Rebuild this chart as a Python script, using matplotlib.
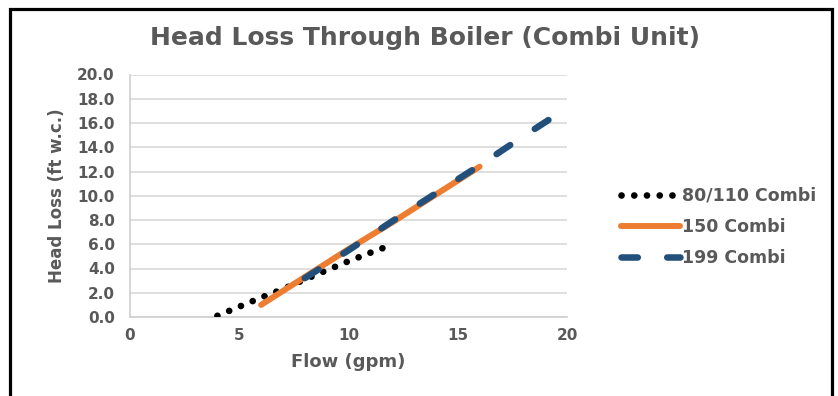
import matplotlib
matplotlib.use("Agg")
import matplotlib.pyplot as plt
from matplotlib.patches import Rectangle
from matplotlib.ticker import FormatStrFormatter

# ---- data ----
flow_80 = [4.0, 5.0, 6.0, 7.0, 8.0, 9.0, 10.0, 11.0, 11.6]
loss_80 = [0.1, 0.85, 1.6, 2.3, 3.1, 3.85, 4.6, 5.3, 5.7]

flow_150 = [6.0, 8.0, 10.0, 12.0, 14.0, 16.0]
loss_150 = [1.0, 3.3, 5.6, 7.8, 10.1, 12.4]

flow_199 = [8.0, 10.0, 12.0, 14.0, 16.0, 18.0, 19.2]
loss_199 = [3.2, 5.5, 7.9, 10.2, 12.5, 14.9, 16.3]

series_labels = ["80/110 Combi", "150 Combi", "199 Combi"]
x_ticks = [0, 5, 10, 15, 20]
y_ticks = [0, 2, 4, 6, 8, 10, 12, 14, 16, 18, 20]
title = "Head Loss Through Boiler (Combi Unit)"
x_label = "Flow (gpm)"
y_label = "Head Loss (ft w.c.)"

# ---- style ----
TXT = "#595959"
GRID = "#d9d9d9"
plt.rcParams["font.family"] = ["DejaVu Sans"]
plt.rcParams["font.weight"] = "bold"

fig = plt.figure(figsize=(8.38, 3.96), dpi=100)
ax = fig.add_axes([130 / 838, 1 - 317 / 396, (567 - 130) / 838, (317 - 74.5) / 396])

ax.plot(flow_80, loss_80, color="black", lw=4.8,
        linestyle=(0, (0.01, 1.9)), dash_capstyle="round", label=series_labels[0], zorder=3)
ax.plot(flow_150, loss_150, color="#ED7D31", lw=4.3,
        solid_capstyle="round", label=series_labels[1], zorder=4)
ax.plot(flow_199, loss_199, color="#22507A", lw=4.7,
        linestyle=(0, (2.5, 4.5)), dash_capstyle="round", label=series_labels[2], zorder=5)

ax.set_xlim(0, 20)
ax.set_ylim(0, 20)
ax.set_xticks(x_ticks)
ax.set_yticks(y_ticks)
ax.yaxis.set_major_formatter(FormatStrFormatter("%.1f"))
ax.grid(axis="y", color=GRID, lw=1.2, zorder=0)
ax.set_axisbelow(True)
for s in ["top", "right"]:
    ax.spines[s].set_visible(False)
for s in ["left", "bottom"]:
    ax.spines[s].set_color("#cfcfcf")
    ax.spines[s].set_linewidth(1.2)
ax.tick_params(axis="both", length=0, colors=TXT, labelsize=11)
ax.tick_params(axis="y", pad=11)
ax.tick_params(axis="x", pad=8)
for t in ax.get_xticklabels() + ax.get_yticklabels():
    t.set_fontweight("bold")

ax.set_xlabel(x_label, color=TXT, fontsize=13, fontweight="bold", labelpad=7)
ax.set_ylabel(y_label, color=TXT, fontsize=12, fontweight="bold", labelpad=8)
fig.text(425 / 838, 1 - 38 / 396, title, ha="center", va="center",
         color=TXT, fontsize=18, fontweight="bold")

leg = fig.legend(loc="center left", bbox_to_anchor=(605 / 838, 1 - 227 / 396),
                 frameon=False, fontsize=12.5, handlelength=3.4, handletextpad=0.15,
                 labelspacing=0.75)
for t in leg.get_texts():
    t.set_color(TXT)
    t.set_fontweight("bold")

fig.patches.append(Rectangle((10 / 838, -0.1), (832 - 10) / 838, 1.1 - 9 / 396,
                             transform=fig.transFigure, fill=False,
                             edgecolor="black", lw=2.3, zorder=10))

fig.savefig("out.png", dpi=100)
